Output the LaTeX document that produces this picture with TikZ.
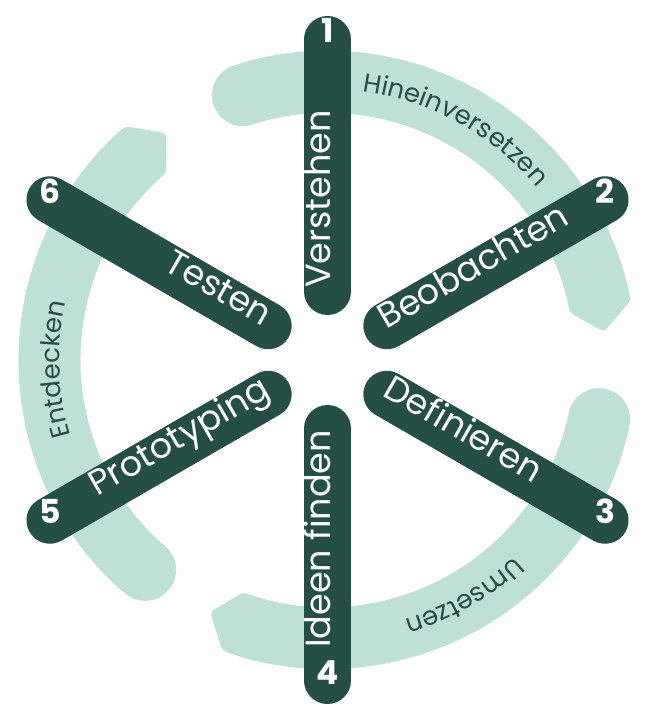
\documentclass[tikz,border=0pt]{standalone}
\usepackage{fontspec}
\setmainfont{Poppins}
\usetikzlibrary{decorations.text}
\definecolor{spokegreen}{RGB}{36,78,70}
\definecolor{bandgreen}{RGB}{191,224,215}
\tikzset{
  band/.style={fill=bandgreen, rounded corners=4pt},
  spokeline/.style={draw=spokegreen, line width=47pt, line cap=round},
  num/.style={text=white, font=\fontsize{33}{33}\selectfont\bfseries, inner sep=0pt, text height=0.7em, text depth=0pt},
  lbl/.style={text=white, font=\fontsize{35}{35}\selectfont, inner sep=0pt, text height=0.7em, text depth=0pt},
  bandtext/.style={decorate, decoration={text along path, text color=spokegreen, text align=center, text={|\fontsize{26}{26}\selectfont|#1}}}
}

\begin{document}
\begin{tikzpicture}
\useasboundingbox (-327.5pt,-360pt) rectangle (323.5pt,360pt);
% bands
\fill[band] (107.7:309pt) arc[start angle=107.7, end angle=11.1, radius=309pt] -- (5.8:278pt) -- (11.1:247pt) arc[start angle=11.1, end angle=107.7, radius=247pt] -- cycle;
\fill[bandgreen] (107.7:278pt) circle[radius=31pt];
\fill[band] (229:309pt) arc[start angle=229, end angle=130.8, radius=309pt] -- (125.4:278pt) -- (130.8:247pt) arc[start angle=130.8, end angle=229, radius=247pt] -- cycle;
\fill[bandgreen] (229:278pt) circle[radius=31pt];
\fill[band] (347.7:309pt) arc[start angle=347.7, end angle=250.1, radius=309pt] -- (245:278pt) -- (250.1:247pt) arc[start angle=250.1, end angle=347.7, radius=247pt] -- cycle;
\fill[bandgreen] (347.7:278pt) circle[radius=31pt];
\path[bandtext=Hineinversetzen] (101:271pt) arc[start angle=101, end angle=21, radius=271pt];
\path[bandtext=Entdecken] (222:268pt) arc[start angle=222, end angle=142, radius=268pt];
\path[bandtext=Umsetzen] (340:271pt) arc[start angle=340, end angle=260, radius=271pt];
% spokes
\coordinate (in1) at (90:68.5pt);  \coordinate (out1) at (90:320.5pt);
\coordinate (in2) at (30:68.5pt);  \coordinate (out2) at (30:320.5pt);
\coordinate (in3) at (-30:68.5pt); \coordinate (out3) at (-30:320.5pt);
\coordinate (in4) at (-90:68.5pt); \coordinate (out4) at (-90:320.5pt);
\coordinate (in5) at (210:68.5pt); \coordinate (out5) at (210:320.5pt);
\coordinate (in6) at (150:68.5pt); \coordinate (out6) at (150:320.5pt);
\draw[spokeline] (in1) -- (out1);
\draw[spokeline] (in2) -- (out2);
\draw[spokeline] (in3) -- (out3);
\draw[spokeline] (in4) -- (out4);
\draw[spokeline] (in5) -- (out5);
\draw[spokeline] (in6) -- (out6);
\node[num] (n1) at (out1) {1};
\node[num] (n2) at (out2) {2};
\node[num] (n3) at (out3) {3};
\node[num] (n4) at (out4) {4};
\node[num] (n5) at (out5) {5};
\node[num] (n6) at (out6) {6};
\node[lbl, rotate=90, anchor=west] (verstehen) at (90:72pt) {Verstehen};
\node[lbl, rotate=30, anchor=west] (beobachten) at (30:66pt) {Beobachten};
\node[lbl, rotate=-30, anchor=west] (definieren) at (-30:64pt) {Definieren};
\node[lbl, rotate=90, anchor=east] (ideen) at (-90:70pt) {Ideen finden};
\node[lbl, rotate=30, anchor=east] (prototyping) at (210:66pt) {Prototyping};
\node[lbl, rotate=-30, anchor=east] (testen) at (150:72pt) {Testen};
\end{tikzpicture}
\end{document}
